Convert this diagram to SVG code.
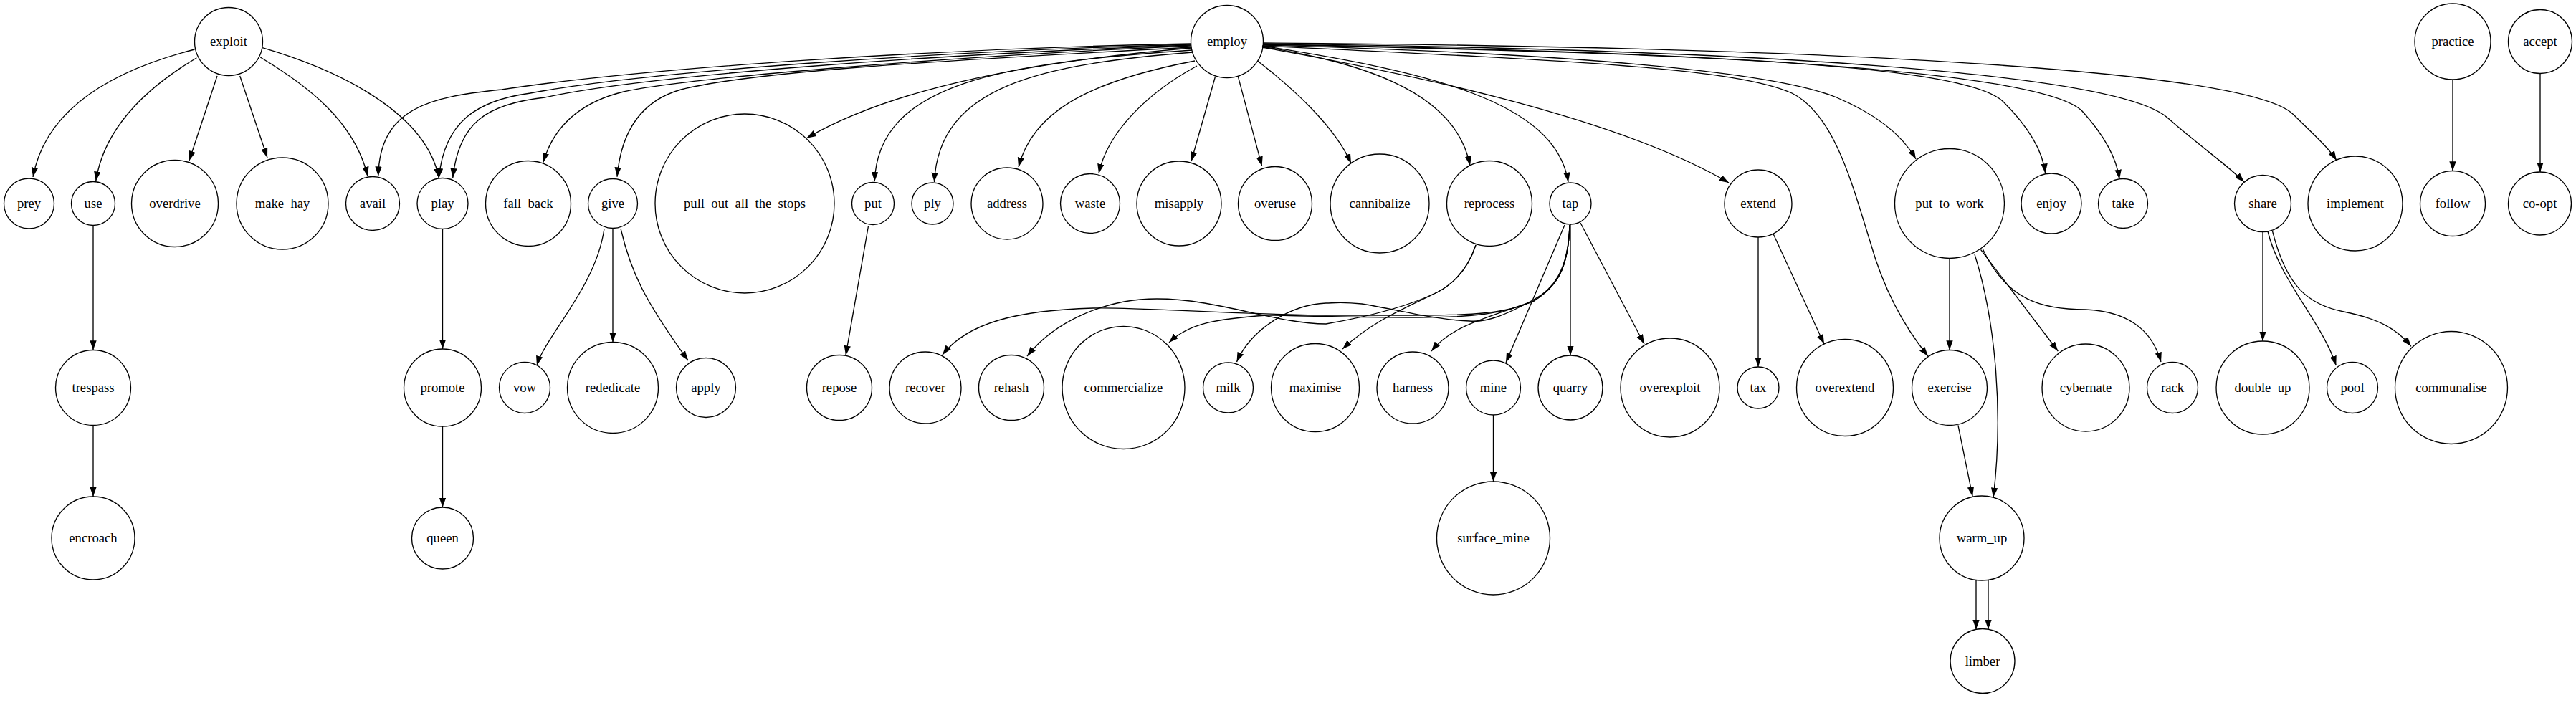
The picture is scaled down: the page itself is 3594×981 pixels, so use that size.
<svg xmlns="http://www.w3.org/2000/svg" width="3594" height="981" viewBox="0 0 3594 981">
<style>
.n circle{fill:none;stroke:#000;stroke-width:1.33}
.n text{font-family:"Liberation Serif","Times New Roman",serif;font-size:18.67px;text-anchor:middle;fill:#000}
#edges path{fill:none;stroke:#000;stroke-width:1.33;marker-end:url(#ah)}
</style>
<defs>
<marker id="ah" markerUnits="userSpaceOnUse" markerWidth="14" markerHeight="10" refX="13.3" refY="4.67" orient="auto"><path d="M0,0 L13.3,4.67 L0,9.33 Z" fill="#000"/></marker>
</defs>
<rect width="3594" height="981" fill="#fff"/>
<g id="edges">
<path d="M271.5,69 C170,95 65,145 46,247"/>
<path d="M274.4,80.7 C200,125 145,180 133.7,252.7"/>
<path d="M303,106 L264,224"/>
<path d="M334.7,106 L373,220"/>
<path d="M363.3,80 C430,120 495,170 513,246"/>
<path d="M366.2,66.7 C480,100 595,160 612.3,248.3"/>
<path d="M130,314.5 L130,488.5"/>
<path d="M130,593.5 L130,693"/>
<path d="M617.5,319.5 L617.5,487"/>
<path d="M617.5,595 L617.5,708"/>
<path d="M1661,61 C1300,68 900,95 700,125 C600,135 530,150 527.7,245.7"/>
<path d="M1661,62 C1300,72 900,100 740,130 C665,140 620,170 612.3,248.3"/>
<path d="M1661,63 C1300,76 900,105 760,136 C680,145 640,170 631.7,248.3"/>
<path d="M1661,64 C1300,80 950,110 870,128 C800,145 770,185 757.7,226.7"/>
<path d="M1662,66 C1300,85 1050,100 950,125 C890,142 866,190 861,246.7"/>
<path d="M1662,67 C1450,85 1250,120 1125.5,192.7"/>
<path d="M1663,70 C1400,88 1225,115 1220.2,253.3"/>
<path d="M1664,73 C1450,90 1310,120 1303.5,254"/>
<path d="M1667,85 C1510,115 1440,160 1421,233"/>
<path d="M1670,92 C1600,130 1545,185 1533,242"/>
<path d="M1695.5,107 L1662,225"/>
<path d="M1727.3,106.7 L1760.6,231.7"/>
<path d="M1754.5,85 C1800,120 1862,175 1885,228"/>
<path d="M1761,65 C1880,85 2030,120 2051,231"/>
<path d="M1761,64 C1990,100 2170,140 2188,254"/>
<path d="M1761,66 C1950,100 2250,160 2412,255"/>
<path d="M1762,64 C2200,85 2420,95 2500,130 C2560,160 2585,260 2610,340 C2630,410 2660,460 2690,497"/>
<path d="M1762,63 C2200,75 2470,100 2560,135 C2620,160 2655,190 2673,222"/>
<path d="M1762,62 C2350,75 2740,88 2795,142 C2828,175 2850,210 2853.6,241.7"/>
<path d="M1762,62 C2400,72 2850,100 2905,155 C2935,188 2953,220 2957,250"/>
<path d="M1762,61 C2500,70 2960,105 3025,165 C3070,205 3105,228 3131,254"/>
<path d="M1762,60 C2600,66 3140,100 3200,160 C3228,188 3248,205 3260,224"/>
<path d="M843,319 C832,400 760,470 749,510"/>
<path d="M855,319.5 L855,477.5"/>
<path d="M866,319 C880,380 900,420 960,503"/>
<path d="M1211.6,315 L1180,495.7"/>
<path d="M2059,342 C2048,375 2030,395 2005,408 C1960,430 1915,448 1873,487"/>
<path d="M2059,342 C2048,375 2030,395 2005,408 C1970,425 1920,440 1850,452 C1780,452 1700,417 1614,417 C1540,417 1470,450 1433,497"/>
<path d="M2190,314 C2188,380 2170,400 2140,420 C2100,438 2050,440 1980,440 L1850,440 C1700,438 1580,428 1525,430 C1420,433 1350,450 1315,495"/>
<path d="M2190,314 C2188,380 2170,400 2140,420 C2100,438 2050,443 1980,443 C1880,443 1790,440 1767,440 C1700,445 1660,450 1631,478"/>
<path d="M2190,314 C2188,380 2165,405 2140,418 C2100,440 2075,450 2050,448 C2000,446 1950,432 1900,424 C1870,421 1860,423 1850,423 C1800,425 1745,460 1725.5,505"/>
<path d="M2190,314 C2188,380 2170,400 2140,420 C2070,445 2025,455 1997,490"/>
<path d="M2183,314 L2101,506"/>
<path d="M2191,313 L2191,496"/>
<path d="M2205,311 L2294,480"/>
<path d="M2083.5,579 L2083.5,672"/>
<path d="M2453,331 L2453,512"/>
<path d="M2474.3,327 L2545,480"/>
<path d="M2720,360.5 L2720,488.5"/>
<path d="M2755,355 C2785,450 2795,580 2781,694"/>
<path d="M2763.5,348.3 L2871.3,490"/>
<path d="M2766,347 C2800,420 2850,432 2910,432 C2980,435 3005,470 3015,505"/>
<path d="M2731.9,593.3 L2752.1,692.7"/>
<path d="M2757,809.5 L2757,878.4"/>
<path d="M2774,809.5 L2774,878.2"/>
<path d="M3157,323.5 L3157,476"/>
<path d="M3164,323 C3180,390 3240,450 3259.3,510"/>
<path d="M3170.5,322.7 C3190,400 3220,425 3270,435 C3320,445 3345,460 3364,483.3"/>
<path d="M3422,111 L3422,238.5"/>
<path d="M3544,102.5 L3544,240"/>
</g>
<g id="node-exploit" class="n"><circle cx="319" cy="58" r="47.5"/><text x="319" y="64">exploit</text></g>
<g id="node-employ" class="n"><circle cx="1712" cy="58" r="50.5"/><text x="1712" y="64">employ</text></g>
<g id="node-practice" class="n"><circle cx="3422" cy="58" r="53"/><text x="3422" y="64">practice</text></g>
<g id="node-accept" class="n"><circle cx="3544" cy="58" r="44.5"/><text x="3544" y="64">accept</text></g>
<g id="node-prey" class="n"><circle cx="40.5" cy="284" r="35"/><text x="40.5" y="290">prey</text></g>
<g id="node-use" class="n"><circle cx="130" cy="284" r="30.5"/><text x="130" y="290">use</text></g>
<g id="node-overdrive" class="n"><circle cx="244" cy="284" r="60.5"/><text x="244" y="290">overdrive</text></g>
<g id="node-make_hay" class="n"><circle cx="394" cy="284" r="64"/><text x="394" y="290">make_hay</text></g>
<g id="node-avail" class="n"><circle cx="520" cy="284" r="37.5"/><text x="520" y="290">avail</text></g>
<g id="node-play" class="n"><circle cx="617.5" cy="284" r="35.5"/><text x="617.5" y="290">play</text></g>
<g id="node-fall_back" class="n"><circle cx="737" cy="284" r="59.5"/><text x="737" y="290">fall_back</text></g>
<g id="node-give" class="n"><circle cx="855" cy="284" r="34.5"/><text x="855" y="290">give</text></g>
<g id="node-pull_out_all_the_stops" class="n"><circle cx="1039" cy="284" r="125"/><text x="1039" y="290">pull_out_all_the_stops</text></g>
<g id="node-put" class="n"><circle cx="1218" cy="284" r="29.5"/><text x="1218" y="290">put</text></g>
<g id="node-ply" class="n"><circle cx="1301" cy="284" r="29"/><text x="1301" y="290">ply</text></g>
<g id="node-address" class="n"><circle cx="1405" cy="284" r="50"/><text x="1405" y="290">address</text></g>
<g id="node-waste" class="n"><circle cx="1521" cy="284" r="41.5"/><text x="1521" y="290">waste</text></g>
<g id="node-misapply" class="n"><circle cx="1645" cy="284" r="59"/><text x="1645" y="290">misapply</text></g>
<g id="node-overuse" class="n"><circle cx="1779" cy="284" r="51.5"/><text x="1779" y="290">overuse</text></g>
<g id="node-cannibalize" class="n"><circle cx="1925" cy="284" r="69"/><text x="1925" y="290">cannibalize</text></g>
<g id="node-reprocess" class="n"><circle cx="2078" cy="284" r="59.5"/><text x="2078" y="290">reprocess</text></g>
<g id="node-tap" class="n"><circle cx="2191" cy="284" r="29"/><text x="2191" y="290">tap</text></g>
<g id="node-extend" class="n"><circle cx="2453" cy="284" r="47"/><text x="2453" y="290">extend</text></g>
<g id="node-put_to_work" class="n"><circle cx="2720" cy="284" r="76.5"/><text x="2720" y="290">put_to_work</text></g>
<g id="node-enjoy" class="n"><circle cx="2862" cy="284" r="42"/><text x="2862" y="290">enjoy</text></g>
<g id="node-take" class="n"><circle cx="2962" cy="284" r="34.5"/><text x="2962" y="290">take</text></g>
<g id="node-share" class="n"><circle cx="3157" cy="284" r="39.5"/><text x="3157" y="290">share</text></g>
<g id="node-implement" class="n"><circle cx="3286" cy="284" r="66"/><text x="3286" y="290">implement</text></g>
<g id="node-follow" class="n"><circle cx="3422" cy="284" r="45.5"/><text x="3422" y="290">follow</text></g>
<g id="node-co-opt" class="n"><circle cx="3543.5" cy="284" r="44"/><text x="3543.5" y="290">co-opt</text></g>
<g id="node-trespass" class="n"><circle cx="130" cy="541" r="52.5"/><text x="130" y="547">trespass</text></g>
<g id="node-promote" class="n"><circle cx="617.5" cy="541" r="54"/><text x="617.5" y="547">promote</text></g>
<g id="node-vow" class="n"><circle cx="732" cy="541" r="35.5"/><text x="732" y="547">vow</text></g>
<g id="node-rededicate" class="n"><circle cx="855" cy="541" r="63.5"/><text x="855" y="547">rededicate</text></g>
<g id="node-apply" class="n"><circle cx="985" cy="541" r="41.5"/><text x="985" y="547">apply</text></g>
<g id="node-repose" class="n"><circle cx="1171" cy="541" r="45.5"/><text x="1171" y="547">repose</text></g>
<g id="node-recover" class="n"><circle cx="1291" cy="541" r="50"/><text x="1291" y="547">recover</text></g>
<g id="node-rehash" class="n"><circle cx="1411" cy="541" r="45.5"/><text x="1411" y="547">rehash</text></g>
<g id="node-commercialize" class="n"><circle cx="1567.5" cy="541" r="85.5"/><text x="1567.5" y="547">commercialize</text></g>
<g id="node-milk" class="n"><circle cx="1713.5" cy="541" r="35"/><text x="1713.5" y="547">milk</text></g>
<g id="node-maximise" class="n"><circle cx="1835" cy="541" r="61.5"/><text x="1835" y="547">maximise</text></g>
<g id="node-harness" class="n"><circle cx="1971" cy="541" r="50"/><text x="1971" y="547">harness</text></g>
<g id="node-mine" class="n"><circle cx="2083.5" cy="541" r="38"/><text x="2083.5" y="547">mine</text></g>
<g id="node-quarry" class="n"><circle cx="2191" cy="541" r="45"/><text x="2191" y="547">quarry</text></g>
<g id="node-overexploit" class="n"><circle cx="2330" cy="541" r="69"/><text x="2330" y="547">overexploit</text></g>
<g id="node-tax" class="n"><circle cx="2453" cy="541" r="29"/><text x="2453" y="547">tax</text></g>
<g id="node-overextend" class="n"><circle cx="2574" cy="541" r="67.5"/><text x="2574" y="547">overextend</text></g>
<g id="node-exercise" class="n"><circle cx="2720" cy="541" r="52.5"/><text x="2720" y="547">exercise</text></g>
<g id="node-cybernate" class="n"><circle cx="2910" cy="541" r="61"/><text x="2910" y="547">cybernate</text></g>
<g id="node-rack" class="n"><circle cx="3031" cy="541" r="35.5"/><text x="3031" y="547">rack</text></g>
<g id="node-double_up" class="n"><circle cx="3157" cy="541" r="65"/><text x="3157" y="547">double_up</text></g>
<g id="node-pool" class="n"><circle cx="3282" cy="541" r="35.5"/><text x="3282" y="547">pool</text></g>
<g id="node-communalise" class="n"><circle cx="3420" cy="541" r="78.5"/><text x="3420" y="547">communalise</text></g>
<g id="node-encroach" class="n"><circle cx="130" cy="751" r="58"/><text x="130" y="757">encroach</text></g>
<g id="node-queen" class="n"><circle cx="617.5" cy="751" r="43"/><text x="617.5" y="757">queen</text></g>
<g id="node-surface_mine" class="n"><circle cx="2083.5" cy="751" r="79"/><text x="2083.5" y="757">surface_mine</text></g>
<g id="node-warm_up" class="n"><circle cx="2765" cy="751" r="59"/><text x="2765" y="757">warm_up</text></g>
<g id="node-limber" class="n"><circle cx="2766" cy="922.5" r="45"/><text x="2766" y="928.5">limber</text></g>
</svg>
